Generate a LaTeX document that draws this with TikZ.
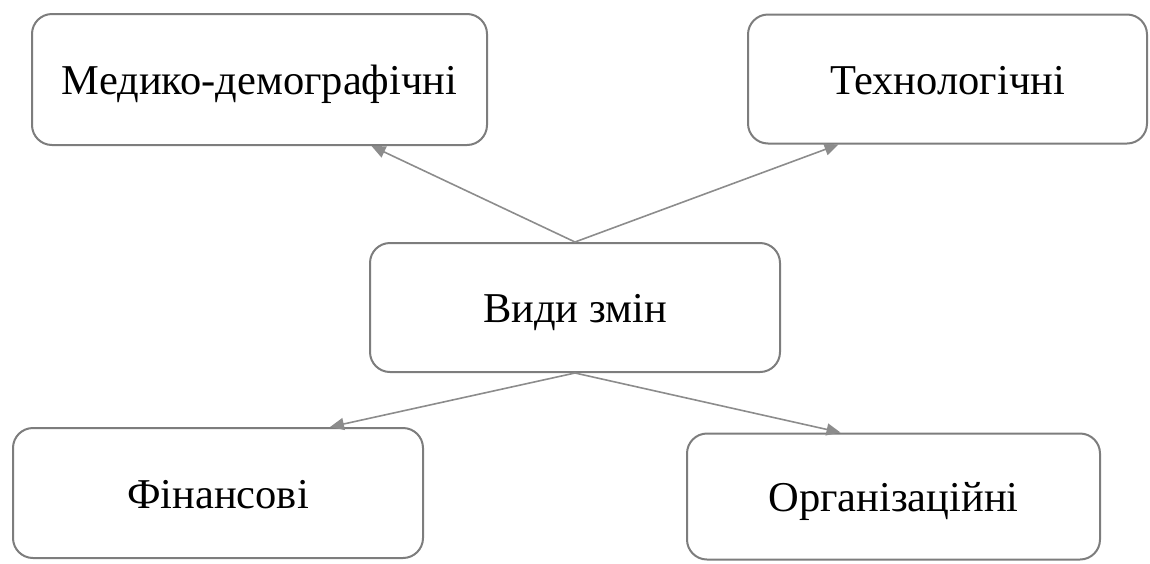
\documentclass[tikz,border=0pt]{standalone}
\usepackage{fontspec}
\setmainfont{Liberation Serif}
\usetikzlibrary{arrows.meta}
\definecolor{boxgray}{RGB}{125,125,125}
\definecolor{linegray}{RGB}{140,140,140}
\tikzset{
  box/.style={draw=boxgray, line width=2pt, rounded corners=20pt, fill=white,
    font=\fontsize{42.5}{48}\selectfont, inner sep=0pt, align=center,
    text height=30pt, text depth=0pt},
  arr/.style={draw=linegray, line width=1.6pt, -{Triangle[length=14pt,width=12pt]}}
}
\begin{document}
\begin{tikzpicture}[x=1pt,y=-1pt]
\useasboundingbox (0,0) rectangle (1150,563);
\node[box, minimum width=455pt, minimum height=131pt] (tl) at (259.5,79.5) {Медико-демографічні};
\node[box, minimum width=399pt, minimum height=129pt] (tr) at (947.5,79) {Технологічні};
\node[box, minimum width=410pt, minimum height=129pt] (c) at (575,307.5) {Види змін};
\node[box, minimum width=410pt, minimum height=130pt] (bl) at (218,493) {Фінансові};
\node[box, minimum width=413pt, minimum height=126pt] (br) at (893.5,496.5) {Організаційні};
\draw[arr] (c.north) -- ([xshift=112pt]tl.south);
\draw[arr] (c.north) -- ([xshift=-109pt]tr.south);
\draw[arr] (c.south) -- ([xshift=112pt]bl.north);
\draw[arr] (c.south) -- ([xshift=-53pt]br.north);
\end{tikzpicture}
\end{document}
